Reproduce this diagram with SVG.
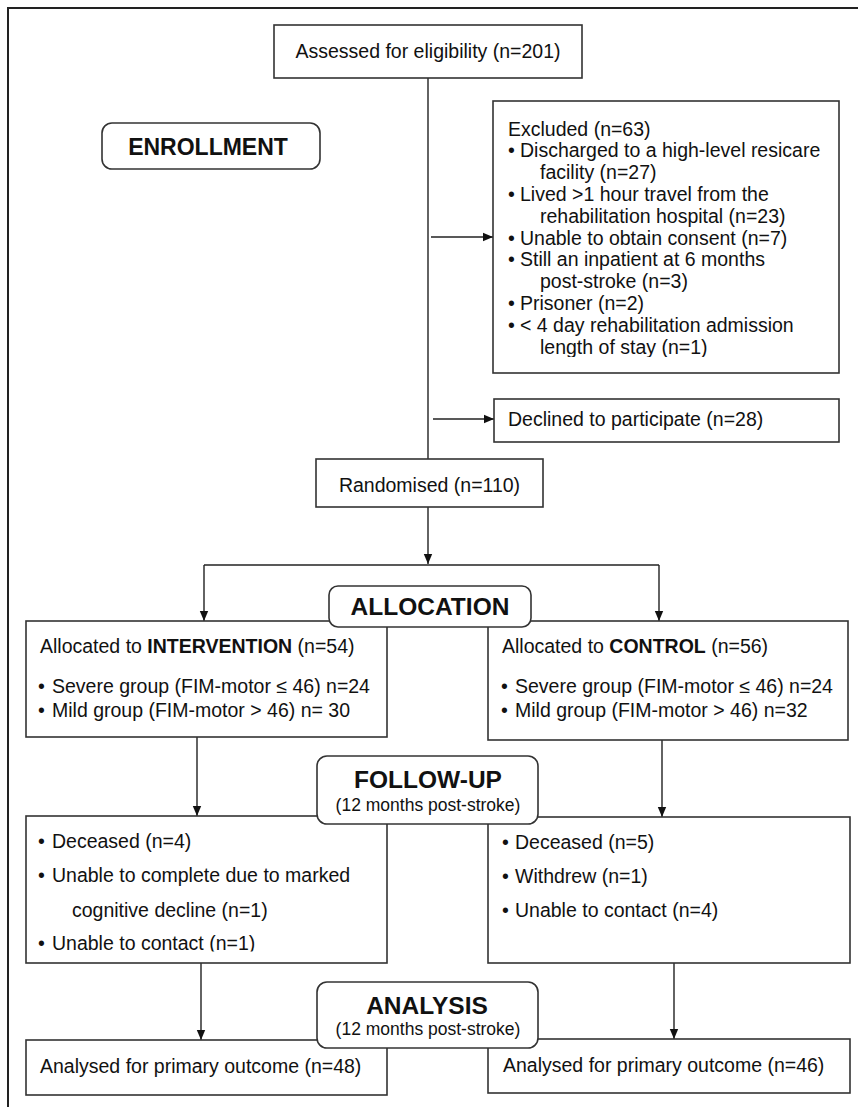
<svg xmlns="http://www.w3.org/2000/svg" width="858" height="1107" viewBox="0 0 858 1107">
<style>
text{font-family:"Liberation Sans",Arial,sans-serif;fill:#111}
.t{font-size:19.5px}
.h{font-size:24.5px;font-weight:bold;text-anchor:middle}
.sub{font-size:17.5px;text-anchor:middle}
.c{text-anchor:middle}
.box{fill:#fff;stroke:#333;stroke-width:1.6}
.hb{fill:#fff;stroke:#333;stroke-width:1.6}
.ln{fill:none;stroke:#222;stroke-width:1.4}
</style>
<defs>
<marker id="ah" markerUnits="userSpaceOnUse" markerWidth="10" markerHeight="10" refX="10" refY="5" orient="auto">
<path d="M0,0.8 L10,5 L0,9.2 Z" fill="#111"/>
</marker>
<clipPath id="clipEx"><rect x="493" y="100" width="347" height="257"/></clipPath>
<clipPath id="clipFu"><rect x="26" y="816" width="362" height="135.5"/></clipPath>
</defs>
<rect x="0" y="0" width="858" height="1107" fill="#fff"/>
<g id="frame">
<line x1="7" y1="8" x2="858" y2="8" stroke="#222" stroke-width="2.2"/>
<line x1="8" y1="7" x2="8" y2="1107" stroke="#222" stroke-width="2"/>
</g>
<g id="connectors">
<line class="ln" x1="428" y1="78" x2="428" y2="459"/>
<line class="ln" x1="431" y1="237" x2="493" y2="237" marker-end="url(#ah)"/>
<line class="ln" x1="433" y1="419" x2="494" y2="419" marker-end="url(#ah)"/>
<line class="ln" x1="428" y1="507" x2="428" y2="564" marker-end="url(#ah)"/>
<line class="ln" x1="204" y1="565" x2="659" y2="565"/>
<line class="ln" x1="204" y1="565" x2="204" y2="621" marker-end="url(#ah)"/>
<line class="ln" x1="659" y1="565" x2="659" y2="621" marker-end="url(#ah)"/>
<line class="ln" x1="197" y1="737" x2="197" y2="816" marker-end="url(#ah)"/>
<line class="ln" x1="662" y1="740" x2="662" y2="817" marker-end="url(#ah)"/>
<line class="ln" x1="201" y1="963" x2="201" y2="1040" marker-end="url(#ah)"/>
<line class="ln" x1="674" y1="963" x2="674" y2="1039" marker-end="url(#ah)"/>
</g>
<g id="assessed">
<rect class="box" x="274" y="25" width="308" height="53"/>
<text class="t c" x="428" y="58">Assessed for eligibility (n=201)</text>
</g>
<g id="enrollment">
<rect class="hb" x="102" y="123" width="218" height="46" rx="10"/>
<text class="h" x="208" y="155" style="font-size:23px">ENROLLMENT</text>
</g>
<g id="excluded">
<rect class="box" x="493" y="101" width="346" height="272"/>
<g clip-path="url(#clipEx)">
<text class="t" x="508" y="135.5">Excluded (n=63)</text>
<text class="t" y="157.3"><tspan x="508">•</tspan><tspan x="520">Discharged to a high-level resicare</tspan></text>
<text class="t" x="540" y="179.1">facility (n=27)</text>
<text class="t" y="200.9"><tspan x="508">•</tspan><tspan x="520">Lived &gt;1 hour travel from the</tspan></text>
<text class="t" x="540" y="222.7">rehabilitation hospital (n=23)</text>
<text class="t" y="244.5"><tspan x="508">•</tspan><tspan x="520">Unable to obtain consent (n=7)</tspan></text>
<text class="t" y="266.3"><tspan x="508">•</tspan><tspan x="520">Still an inpatient at 6 months</tspan></text>
<text class="t" x="540" y="288.1">post-stroke (n=3)</text>
<text class="t" y="309.9"><tspan x="508">•</tspan><tspan x="520">Prisoner (n=2)</tspan></text>
<text class="t" y="331.7"><tspan x="508">•</tspan><tspan x="520">&lt; 4 day rehabilitation admission</tspan></text>
<text class="t" x="540" y="353.5">length of stay (n=1)</text>
</g>
</g>
<g id="declined">
<rect class="box" x="494" y="399" width="345" height="43"/>
<text class="t" x="508" y="426">Declined to participate (n=28)</text>
</g>
<g id="randomised">
<rect class="box" x="316" y="459" width="227" height="48"/>
<text class="t c" x="429.5" y="492">Randomised (n=110)</text>
</g>
<g id="intervention">
<rect class="box" x="26" y="621" width="361" height="116"/>
<text class="t" x="40" y="653">Allocated to <tspan font-weight="bold">INTERVENTION</tspan> (n=54)</text>
<text class="t" y="693"><tspan x="38">•</tspan><tspan x="52">Severe group (FIM-motor ≤ 46) n=24</tspan></text>
<text class="t" y="717"><tspan x="38">•</tspan><tspan x="52">Mild group (FIM-motor &gt; 46) n= 30</tspan></text>
</g>
<g id="control">
<rect class="box" x="488" y="621" width="360" height="119"/>
<text class="t" x="502" y="653">Allocated to <tspan font-weight="bold">CONTROL</tspan> (n=56)</text>
<text class="t" y="693"><tspan x="501">•</tspan><tspan x="515">Severe group (FIM-motor ≤ 46) n=24</tspan></text>
<text class="t" y="717"><tspan x="501">•</tspan><tspan x="515">Mild group (FIM-motor &gt; 46) n=32</tspan></text>
</g>
<g id="allocation">
<rect class="hb" x="329" y="586" width="202" height="41" rx="9"/>
<text class="h" x="430" y="615">ALLOCATION</text>
</g>
<g id="followup-intervention">
<rect class="box" x="26" y="816" width="361" height="147"/>
<g clip-path="url(#clipFu)">
<text class="t" y="848"><tspan x="38">•</tspan><tspan x="52">Deceased (n=4)</tspan></text>
<text class="t" y="882"><tspan x="38">•</tspan><tspan x="52">Unable to complete due to marked</tspan></text>
<text class="t" x="72" y="917">cognitive decline (n=1)</text>
<text class="t" y="950"><tspan x="38">•</tspan><tspan x="52">Unable to contact (n=1)</tspan></text>
</g>
</g>
<g id="followup-control">
<rect class="box" x="488" y="817" width="362" height="146"/>
<text class="t" y="849"><tspan x="502">•</tspan><tspan x="515">Deceased (n=5)</tspan></text>
<text class="t" y="883"><tspan x="502">•</tspan><tspan x="515">Withdrew (n=1)</tspan></text>
<text class="t" y="917"><tspan x="502">•</tspan><tspan x="515">Unable to contact (n=4)</tspan></text>
</g>
<g id="followup">
<rect class="hb" x="317" y="756" width="221" height="68" rx="10"/>
<text class="h" x="428" y="788">FOLLOW-UP</text>
<text class="sub" x="428" y="811">(12 months post-stroke)</text>
</g>
<g id="analysed-intervention">
<rect class="box" x="26" y="1040" width="361" height="55"/>
<text class="t" x="40" y="1073">Analysed for primary outcome (n=48)</text>
</g>
<g id="analysed-control">
<rect class="box" x="488" y="1039" width="362" height="54"/>
<text class="t" x="503" y="1072">Analysed for primary outcome (n=46)</text>
</g>
<g id="analysis">
<rect class="hb" x="317" y="982" width="221" height="66" rx="10"/>
<text class="h" x="427" y="1014">ANALYSIS</text>
<text class="sub" x="428" y="1035">(12 months post-stroke)</text>
</g>
</svg>
